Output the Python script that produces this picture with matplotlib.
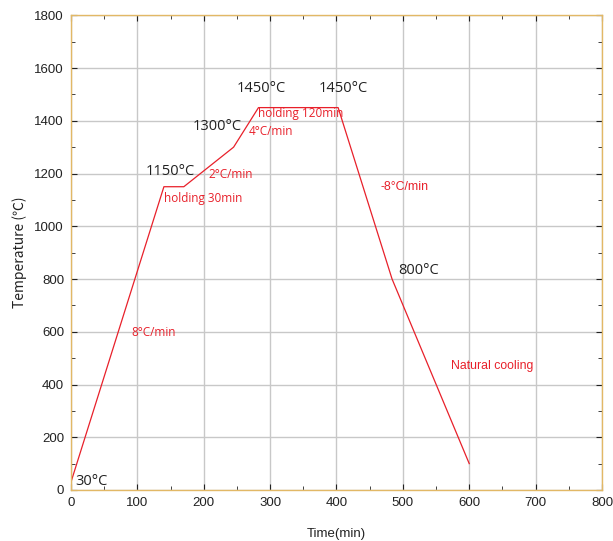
import matplotlib
matplotlib.use("Agg")
import matplotlib.pyplot as plt
from matplotlib.ticker import MultipleLocator

# heating schedule: time (min) vs furnace temperature (°C)
time_min = [0, 140, 170, 245, 282.5, 402.5, 483.75, 600]
temp_c = [30, 1150, 1150, 1300, 1450, 1450, 800, 100]

# temperature labels at the set points
point_labels = ["30°C", "1150°C", "1300°C", "1450°C", "1450°C", "800°C"]
point_xy = [(7, 34), (149, 1206), (220, 1377), (287, 1521), (411, 1521), (524, 834)]
point_ha = ["left", "center", "center", "center", "center", "center"]

# rate / holding annotations
step_labels = ["8°C/min", "holding 30min", "2°C/min", "4°C/min", "holding 120min"]
step_xy = [(124, 599), (199, 1107), (241, 1195), (302, 1358), (346, 1426)]
cool_labels = ["-8°C/min", "Natural cooling"]
cool_xy = [(503, 1149), (634, 470)]

red = "#e8202a"
spine = "#e2b866"
ui = ["Open Sans", "Noto Sans CJK SC", "DejaVu Sans"]
cjk = ["Noto Sans CJK SC", "DejaVu Sans"]
arial = ["Liberation Sans", "DejaVu Sans"]

fig = plt.figure(figsize=(6.13, 5.41), dpi=100)
ax = fig.add_axes([0.1158, 0.0943, 0.8662, 0.8774])

ax.plot(time_min, temp_c, color=red, lw=0.9)

ax.set_xlim(0, 800)
ax.set_ylim(0, 1800)
ax.xaxis.set_major_locator(MultipleLocator(100))
ax.xaxis.set_minor_locator(MultipleLocator(50))
ax.yaxis.set_major_locator(MultipleLocator(200))
ax.yaxis.set_minor_locator(MultipleLocator(100))
ax.grid(True, which="major", color="#c8c8c8", lw=1.0)
ax.set_axisbelow(True)
ax.tick_params(which="both", direction="in", top=True, right=True,
               color="#222222", labelsize=9.5, pad=5)
ax.tick_params(which="major", length=4)
ax.tick_params(which="minor", length=3)
for lab in ax.get_xticklabels() + ax.get_yticklabels():
    lab.set_family(arial)
    lab.set_color("#222222")
for s in ax.spines.values():
    s.set_color(spine)
    s.set_linewidth(1.0)

ax.set_xlabel("Time(min)", fontsize=9.5, family=arial, color="#222222", labelpad=14)
ax.set_ylabel("Temperature (℃)", fontsize=10, family=cjk, color="#222222", labelpad=5)

for txt, (x, y), ha in zip(point_labels, point_xy, point_ha):
    ax.text(x, y, txt, ha=ha, va="center", fontsize=10.5, family=ui, color="#222222")
for txt, (x, y) in zip(step_labels, step_xy):
    ax.text(x, y, txt, ha="center", va="center", fontsize=8.5, family=ui, color=red)
for txt, (x, y) in zip(cool_labels, cool_xy):
    ax.text(x, y, txt, ha="center", va="center", fontsize=8.8, family=arial, color=red)

fig.savefig("out.png", dpi=100)
